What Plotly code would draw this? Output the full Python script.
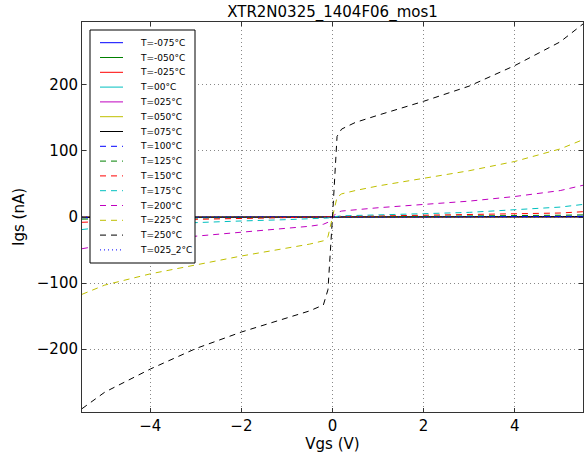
import plotly.graph_objects as go

# Gate voltage sample points (V)
vgs = [-5.5, -5, -4, -3, -2, -1, -0.5, -0.2, -0.1, 0, 0.1, 0.2, 0.5, 1, 2, 3, 4, 5, 5.5]

# Gate current (nA) per temperature
igs_m075 = [-0.1, -0.1, -0.1, 0, 0, 0, 0, 0, 0, 0, 0, 0, 0, 0, 0, 0, 0.1, 0.1, 0.1]
igs_m050 = [-0.1, -0.1, -0.1, -0.1, 0, 0, 0, 0, 0, 0, 0, 0, 0, 0, 0.1, 0.1, 0.1, 0.1, 0.1]
igs_m025 = [-0.1, -0.1, -0.1, -0.1, -0.1, 0, 0, 0, 0, 0, 0, 0, 0, 0.1, 0.1, 0.1, 0.1, 0.1, 0.1]
igs_000 = [-0.2, -0.2, -0.1, -0.1, -0.1, 0, 0, 0, 0, 0, 0, 0, 0, 0, 0.1, 0.1, 0.1, 0.2, 0.2]
igs_025 = [-0.2, -0.2, -0.2, -0.1, -0.1, -0.1, 0, 0, 0, 0, 0, 0, 0, 0.1, 0.1, 0.1, 0.2, 0.2, 0.2]
igs_050 = [-0.3, -0.3, -0.2, -0.2, -0.1, -0.1, 0, 0, 0, 0, 0, 0, 0, 0.1, 0.1, 0.2, 0.2, 0.3, 0.3]
igs_075 = [-0.6, -0.5, -0.4, -0.3, -0.2, -0.1, -0.1, 0, 0, 0, 0, 0, 0.1, 0.1, 0.2, 0.3, 0.4, 0.5, 0.6]
igs_100 = [-1.2, -1.0, -0.8, -0.6, -0.4, -0.3, -0.2, -0.1, -0.1, 0, 0.1, 0.1, 0.2, 0.3, 0.4, 0.6, 0.8, 1.0, 1.2]
igs_125 = [-3.2, -2.7, -2.0, -1.5, -1.1, -0.7, -0.5, -0.3, -0.2, 0, 0.2, 0.3, 0.5, 0.7, 1.1, 1.5, 2.0, 2.7, 3.2]
igs_150 = [-8, -6.5, -4.5, -3.5, -2.5, -1.7, -1.2, -0.8, -0.6, 0, 0.5, 0.7, 1.0, 1.3, 2.0, 3.0, 4.0, 6.0, 8.0]
igs_175 = [-19, -15, -11, -8, -6, -4, -3, -2, -1.5, 0, 1.2, 1.8, 2.3, 3, 5, 7, 10.5, 15, 19]
igs_200 = [-48, -42, -35, -29, -23, -17, -14, -11, -8, 0, 7, 9, 11, 14, 19, 24, 31, 40, 48]
igs_225 = [-117, -103, -86, -72, -59, -47, -41, -36, -30, 0, 30, 35, 40, 47, 58, 70, 84, 103, 117]
igs_250 = [-290, -265, -230, -199, -174, -152, -142, -133, -110, 0, 122, 133, 143, 154, 175, 198, 229, 265, 292]
igs_025_2 = [-0.2, -0.2, -0.2, -0.1, -0.1, -0.1, 0, 0, 0, 0, 0, 0, 0, 0.1, 0.1, 0.1, 0.2, 0.2, 0.2]

labels = ["T=-075°C", "T=-050°C", "T=-025°C", "T=00°C", "T=025°C", "T=050°C", "T=075°C",
          "T=100°C", "T=125°C", "T=150°C", "T=175°C", "T=200°C", "T=225°C", "T=250°C", "T=025_2°C"]
series = [igs_m075, igs_m050, igs_m025, igs_000, igs_025, igs_050, igs_075,
          igs_100, igs_125, igs_150, igs_175, igs_200, igs_225, igs_250, igs_025_2]
colors = ["#0000ff", "#008000", "#ff0000", "#00bfbf", "#bf00bf", "#bfbf00", "#000000",
          "#0000ff", "#008000", "#ff0000", "#00bfbf", "#bf00bf", "#bfbf00", "#000000", "#0000ff"]
dashes = ["solid"] * 7 + ["6px,5px"] * 7 + ["1px,3px"]

# plot area geometry (pixels)
W, H = 584, 454
ML, MR, MT, MB = 82, 1, 22, 42
PW, PH = W - ML - MR, H - MT - MB


def px(xp):
    return (xp - ML) / PW


def py(yp):
    return (H - MB - yp) / PH


fig = go.Figure()
for lab, ys, col, d in zip(labels, series, colors, dashes):
    fig.add_trace(go.Scatter(x=vgs, y=ys, mode="lines", name=lab, showlegend=False,
                             line=dict(color=col, width=1, dash=d)))

# legend drawn as a compact matplotlib-style box
shapes = [dict(type="rect", xref="paper", yref="paper", layer="above",
               x0=px(90), x1=px(195), y0=py(263), y1=py(30),
               fillcolor="white", line=dict(color="black", width=1))]
annotations = []
for i, (lab, col, d) in enumerate(zip(labels, colors, dashes)):
    yy = 42.7 + i * 14.8
    shapes.append(dict(type="line", xref="paper", yref="paper", layer="above",
                       x0=px(100), x1=px(123), y0=py(yy), y1=py(yy),
                       line=dict(color=col, width=1, dash=d)))
    annotations.append(dict(text=lab, xref="paper", yref="paper", x=px(138), y=py(yy),
                            xanchor="left", yanchor="middle", showarrow=False,
                            font=dict(size=9, color="black")))

axis_common = dict(showline=True, linecolor="#333333", linewidth=1, mirror="allticks",
                   ticks="inside", ticklen=4, tickcolor="#333333",
                   showgrid=True, gridcolor="#888888", griddash="1px,3px", gridwidth=1,
                   zeroline=False, tickfont=dict(size=15, color="black"))

fig.update_layout(
    width=W, height=H,
    margin=dict(l=ML, r=MR, t=MT, b=MB),
    paper_bgcolor="white", plot_bgcolor="white",
    font=dict(family="DejaVu Sans", color="black"),
    title=dict(text="XTR2N0325_1404F06_mos1", x=(ML + PW / 2) / W, xanchor="center",
               y=1 - 12 / H, yanchor="middle", font=dict(size=15)),
    xaxis=dict(range=[-5.5, 5.5], tickvals=[-4, -2, 0, 2, 4],
               title=dict(text="Vgs (V)", font=dict(size=15), standoff=2), **axis_common),
    yaxis=dict(range=[-295, 295], tickvals=[-200, -100, 0, 100, 200],
               title=dict(text="Igs (nA)", font=dict(size=15), standoff=8), **axis_common),
    shapes=shapes,
    annotations=annotations,
    showlegend=False,
    hovermode=False,
)

fig.write_html("out.html",
               config={"displayModeBar": False, "staticPlot": True},
               post_script="document.body.style.margin='0';document.body.style.overflow='hidden';")
